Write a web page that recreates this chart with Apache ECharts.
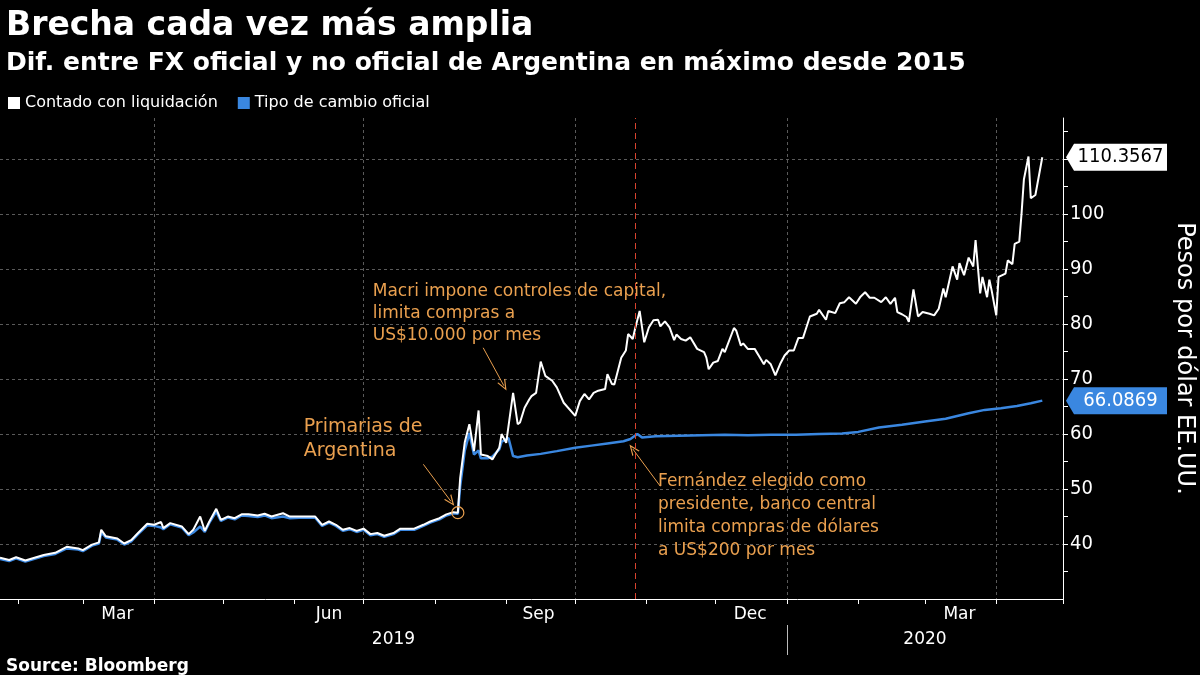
<!DOCTYPE html>
<html><head><meta charset="utf-8">
<script src="https://cdn.jsdelivr.net/npm/echarts@6/dist/echarts.min.js"></script>
<style>html,body{margin:0;padding:0;background:#000;}#c{width:1200px;height:675px;}</style>
</head><body><div id="c"></div>
<script>
const titulo = 'Brecha cada vez más amplia';
const subtitulo = 'Dif. entre FX oficial y no oficial de Argentina en máximo desde 2015';
const fuente = 'Source: Bloomberg';
const nombreCCL = 'Contado con liquidación';
const nombreOficial = 'Tipo de cambio oficial';
const nombreEjeY = 'Pesos por dólar EE.UU.';

const ejeXMin = '2019-01-24';
const ejeXMax = '2020-04-30';
const ejeYMin = 30;
const ejeYMax = 117.5;
const ejeYIntervalo = 10;
const ejeYEtiquetas = [40, 50, 60, 70, 80, 90, 100];
const ejeYLineas = [40, 50, 60, 70, 80, 90, 100, 110];
const ejeYMarcas = [35, 40, 45, 50, 55, 60, 65, 70, 75, 80, 85, 90, 95, 100, 105, 110, 115];
const mesEtiquetaFechas = ['2019-03-16', '2019-06-16', '2019-09-15', '2019-12-16', '2020-03-16'];
const mesEtiquetas = ['Mar', 'Jun', 'Sep', 'Dec', 'Mar'];
const anioEtiquetaFechas = ['2019-07-14', '2020-03-01'];
const anioEtiquetas = ['2019', '2020'];
const anioSeparador = ['2020-01-01'];
const trimestreLineas = ['2019-04-01', '2019-07-01', '2019-10-01', '2020-01-01', '2020-04-01'];

const cclFechas = ['2019-01-24','2019-01-28','2019-01-31','2019-02-04','2019-02-08','2019-02-12','2019-02-17','2019-02-22','2019-02-27','2019-03-01','2019-03-05','2019-03-08','2019-03-09','2019-03-11','2019-03-16','2019-03-19','2019-03-22','2019-03-25','2019-03-29','2019-04-01','2019-04-04','2019-04-05','2019-04-08','2019-04-13','2019-04-16','2019-04-18','2019-04-21','2019-04-23','2019-04-25','2019-04-28','2019-04-30','2019-05-03','2019-05-06','2019-05-09','2019-05-12','2019-05-16','2019-05-19','2019-05-22','2019-05-27','2019-05-30','2019-06-03','2019-06-10','2019-06-13','2019-06-16','2019-06-19','2019-06-22','2019-06-25','2019-06-28','2019-07-01','2019-07-04','2019-07-07','2019-07-10','2019-07-14','2019-07-17','2019-07-23','2019-07-27','2019-07-30','2019-08-03','2019-08-06','2019-08-09','2019-08-11','2019-08-12','2019-08-14','2019-08-16','2019-08-18','2019-08-20','2019-08-21','2019-08-24','2019-08-26','2019-08-29','2019-08-30','2019-09-01','2019-09-04','2019-09-06','2019-09-07','2019-09-09','2019-09-11','2019-09-12','2019-09-14','2019-09-16','2019-09-18','2019-09-21','2019-09-23','2019-09-26','2019-10-01','2019-10-03','2019-10-05','2019-10-07','2019-10-09','2019-10-11','2019-10-14','2019-10-15','2019-10-17','2019-10-18','2019-10-21','2019-10-23','2019-10-24','2019-10-26','2019-10-27','2019-10-29','2019-10-31','2019-11-02','2019-11-04','2019-11-06','2019-11-07','2019-11-09','2019-11-11','2019-11-13','2019-11-14','2019-11-16','2019-11-18','2019-11-20','2019-11-23','2019-11-26','2019-11-27','2019-11-28','2019-11-30','2019-12-02','2019-12-04','2019-12-05','2019-12-09','2019-12-10','2019-12-12','2019-12-13','2019-12-15','2019-12-18','2019-12-20','2019-12-22','2019-12-23','2019-12-25','2019-12-27','2019-12-29','2019-12-31','2020-01-02','2020-01-04','2020-01-06','2020-01-08','2020-01-09','2020-01-11','2020-01-14','2020-01-15','2020-01-18','2020-01-19','2020-01-22','2020-01-24','2020-01-26','2020-01-28','2020-01-31','2020-02-02','2020-02-04','2020-02-06','2020-02-08','2020-02-11','2020-02-13','2020-02-15','2020-02-17','2020-02-18','2020-02-20','2020-02-22','2020-02-23','2020-02-25','2020-02-27','2020-02-29','2020-03-03','2020-03-05','2020-03-07','2020-03-09','2020-03-10','2020-03-13','2020-03-15','2020-03-16','2020-03-18','2020-03-20','2020-03-22','2020-03-23','2020-03-25','2020-03-26','2020-03-28','2020-03-29','2020-03-30','2020-04-01','2020-04-02','2020-04-05','2020-04-06','2020-04-08','2020-04-09','2020-04-11','2020-04-12','2020-04-13','2020-04-15','2020-04-16','2020-04-18','2020-04-21'];
const cclValores = [37.5,37.1,37.6,37.0,37.5,38.0,38.4,39.5,39.2,38.9,39.9,40.3,42.6,41.4,41.0,40.1,40.7,42.0,43.7,43.5,44.0,42.9,43.8,43.2,41.8,42.6,45.0,42.4,44.1,46.4,44.4,45.0,44.7,45.4,45.4,45.2,45.5,45.0,45.6,45.0,45.0,45.0,43.5,44.1,43.5,42.6,42.9,42.4,42.8,41.8,42.0,41.5,42.0,42.8,42.8,43.5,44.1,44.7,45.4,45.8,45.7,52.0,58.5,61.8,56.9,64.3,56.3,56.0,55.4,57.5,60.0,58.4,67.5,61.8,62.1,64.8,66.3,66.9,67.5,73.2,70.6,69.7,68.5,65.7,63.3,66.0,67.3,66.3,67.5,67.9,68.2,70.9,69.1,69.0,73.9,75.2,78.2,77.3,79.1,82.4,76.7,79.4,80.7,80.8,79.6,80.5,79.4,77.1,78.1,77.3,77.0,77.6,75.5,74.9,73.9,71.8,73.0,73.3,75.5,74.9,79.3,78.8,76.1,76.5,75.5,75.5,74.1,72.7,73.5,72.7,70.7,72.7,74.3,75.2,75.2,77.5,77.5,78.8,81.4,81.9,82.6,80.8,82.4,82.0,83.8,84.0,84.9,83.7,85.0,85.8,84.8,84.8,84.0,84.9,83.7,84.8,82.2,81.8,81.3,80.4,86.3,81.4,82.2,81.9,81.6,82.8,86.5,84.9,90.5,88.1,91.1,88.9,92.1,90.5,95.3,85.6,88.6,84.9,88.1,86.1,81.6,88.6,89.2,91.6,90.9,94.6,95.0,100.2,106.3,110.5,102.9,103.5,110.3567];

const oficialFechas = ['2019-01-24','2019-01-28','2019-01-31','2019-02-04','2019-02-08','2019-02-12','2019-02-17','2019-02-22','2019-02-27','2019-03-01','2019-03-05','2019-03-08','2019-03-09','2019-03-11','2019-03-16','2019-03-19','2019-03-22','2019-03-25','2019-03-29','2019-04-01','2019-04-04','2019-04-05','2019-04-08','2019-04-13','2019-04-16','2019-04-18','2019-04-21','2019-04-23','2019-04-25','2019-04-28','2019-04-30','2019-05-03','2019-05-06','2019-05-09','2019-05-12','2019-05-16','2019-05-19','2019-05-22','2019-05-27','2019-05-30','2019-06-03','2019-06-10','2019-06-13','2019-06-16','2019-06-19','2019-06-22','2019-06-25','2019-06-28','2019-07-01','2019-07-04','2019-07-07','2019-07-10','2019-07-14','2019-07-17','2019-07-23','2019-07-27','2019-07-30','2019-08-03','2019-08-06','2019-08-09','2019-08-11','2019-08-12','2019-08-14','2019-08-16','2019-08-18','2019-08-20','2019-08-21','2019-08-24','2019-08-26','2019-08-29','2019-08-30','2019-09-02','2019-09-04','2019-09-06','2019-09-10','2019-09-16','2019-09-23','2019-10-01','2019-10-08','2019-10-15','2019-10-22','2019-10-25','2019-10-28','2019-10-30','2019-11-05','2019-11-15','2019-11-25','2019-12-05','2019-12-15','2019-12-25','2020-01-05','2020-01-15','2020-01-25','2020-02-01','2020-02-10','2020-02-20','2020-03-01','2020-03-10','2020-03-20','2020-03-27','2020-04-03','2020-04-10','2020-04-16','2020-04-21'];
const oficialValores = [37.3,36.9,37.4,36.8,37.3,37.8,38.2,39.2,39.0,38.7,39.7,40.1,42.1,41.2,40.8,39.9,40.5,41.8,43.4,43.3,43.0,42.7,43.6,43.0,41.6,42.1,43.2,42.2,43.9,45.9,44.2,44.8,44.5,45.2,45.1,44.9,45.2,44.7,45.0,44.7,44.8,44.8,43.3,43.9,43.3,42.4,42.7,42.2,42.6,41.6,41.8,41.3,41.8,42.6,42.6,43.3,43.9,44.5,45.2,45.6,45.5,50.5,57.0,60.2,56.3,57.0,55.6,55.6,55.9,57.2,58.6,59.3,56.0,55.8,56.1,56.4,56.9,57.5,57.9,58.3,58.7,59.1,60.0,59.4,59.6,59.7,59.8,59.9,59.8,59.9,59.9,60.0,60.1,60.4,61.2,61.7,62.3,62.8,63.8,64.4,64.7,65.1,65.6,66.0869];

const notaPrimarias = 'Primarias de\nArgentina';
const notaMacri = 'Macri impone controles de capital,\nlimita compras a\nUS$10.000 por mes';
const notaFernandez = 'Fernández elegido como\npresidente, banco central\nlimita compras de dólares\na US$200 por mes';
const fechaEleccion = '2019-10-27';

const BLANCO = '#ffffff';
const AZUL = '#3a87e0';
const NARANJA = '#eaa04f';
const ROJO = '#d8432e';
const GRIS = '#5a5a5a';
const FONT = 'DejaVu Sans';
const FONTC = 'DejaVu Sans Condensed, DejaVu Sans';

function ts(s) { const p = s.split('-'); return Date.UTC(+p[0], +p[1] - 1, +p[2]); }
function zip(f, v) { return f.map((d, i) => [ts(d), v[i]]); }
function mesesInicio() {
  const out = [];
  let y = 2019, m = 1;
  while (Date.UTC(y, m, 1) <= ts(ejeXMax) + 86400000) { out.push(Math.min(Date.UTC(y, m, 1), ts(ejeXMax))); m++; if (m > 11) { m = 0; y++; } }
  return out;
}

const flecha = 'path://M5,0 L10,11 L8.6,11 L5,3 L1.4,11 L0,11 Z';
const etiquetaForma = 'path://M0,13.5 L8,0 L101,0 L101,27 L8,27 Z';
const ultimoCCL = cclValores[cclValores.length - 1];
const ultimoOficial = oficialValores[oficialValores.length - 1];

function nota(fecha, valor, texto, size, lh) {
  return { coord: [ts(fecha), valor], symbol: 'circle', symbolSize: 0, itemStyle: { color: 'transparent' },
    label: { show: true, position: [0, 0], align: 'left', verticalAlign: 'top', formatter: texto,
      color: NARANJA, fontSize: size, lineHeight: lh, fontFamily: FONT } };
}
function flechaDe(f1, v1, f2, v2) { return [{ coord: [ts(f1), v1] }, { coord: [ts(f2), v2] }]; }

const xBase = { type: 'value', min: ts(ejeXMin), max: ts(ejeXMax), position: 'bottom', scale: true };

const chart = echarts.init(document.getElementById('c'));
chart.setOption({
  backgroundColor: '#000',
  animation: false,
  textStyle: { fontFamily: FONT },
  title: [
    { text: titulo, left: 1, top: 5, textStyle: { color: BLANCO, fontSize: 33, fontWeight: 'bold', fontFamily: FONT } },
    { text: subtitulo, left: 1, top: 46, textStyle: { color: BLANCO, fontSize: 25, fontWeight: 'bold', fontFamily: FONT } },
    { text: fuente, left: 1, top: 653, textStyle: { color: BLANCO, fontSize: 17, fontWeight: 'bold', fontFamily: FONT } }
  ],
  legend: {
    left: 3, top: 90, icon: 'rect', itemWidth: 12, itemHeight: 12, itemGap: 20,
    data: [nombreCCL, nombreOficial],
    textStyle: { color: BLANCO, fontSize: 16, fontFamily: FONT }
  },
  grid: { left: 0, right: 137, top: 118, bottom: 76, containLabel: false, outerBoundsMode: 'none' },
  xAxis: [
    Object.assign({}, xBase, {
      axisLine: { show: true, lineStyle: { color: BLANCO, width: 1 } },
      axisTick: { show: true, customValues: mesesInicio(), length: 5, lineStyle: { color: BLANCO } },
      axisLabel: { show: true, customValues: mesEtiquetaFechas.map(ts), color: BLANCO, fontSize: 17, margin: 7, fontFamily: FONT,
        formatter: function (v) { const i = mesEtiquetaFechas.map(ts).indexOf(v); return i >= 0 ? mesEtiquetas[i] : ''; } },
      splitLine: { show: false } }),
    Object.assign({}, xBase, { offset: 26,
      axisLine: { show: false },
      axisTick: { show: true, customValues: anioSeparador.map(ts), length: 30, lineStyle: { color: '#bbbbbb' } },
      axisLabel: { show: true, customValues: anioEtiquetaFechas.map(ts), color: BLANCO, fontSize: 17, margin: 6, fontFamily: FONT,
        formatter: function (v) { const i = anioEtiquetaFechas.map(ts).indexOf(v); return i >= 0 ? anioEtiquetas[i] : ''; } },
      splitLine: { show: false } }),
    Object.assign({}, xBase, {
      axisLine: { show: false },
      axisTick: { show: false, customValues: trimestreLineas.map(ts) },
      axisLabel: { show: false },
      splitLine: { show: true, lineStyle: { color: GRIS, type: [3, 3], width: 1 } } })
  ],
  yAxis: [
    { type: 'value', position: 'right', min: ejeYMin, max: ejeYMax, interval: ejeYIntervalo,
      axisLine: { show: true, lineStyle: { color: BLANCO, width: 1 } },
      axisTick: { show: true, customValues: ejeYMarcas, length: 5, lineStyle: { color: BLANCO } },
      axisLabel: { show: true, customValues: ejeYEtiquetas, color: BLANCO, fontSize: 20, margin: 7, fontFamily: FONTC },
      splitLine: { show: false },
      name: nombreEjeY, nameLocation: 'middle', nameRotate: -90, nameGap: 109,
      nameTextStyle: { color: BLANCO, fontSize: 24, fontFamily: FONT } },
    { type: 'value', position: 'right', min: ejeYMin, max: ejeYMax, interval: ejeYIntervalo,
      axisLine: { show: false },
      axisTick: { show: false, customValues: ejeYLineas },
      axisLabel: { show: false },
      splitLine: { show: true, lineStyle: { color: GRIS, type: [3, 3], width: 1 } } }
  ],
  series: [
    { name: nombreCCL, type: 'line', xAxisIndex: 0, yAxisIndex: 0, z: 4,
      data: zip(cclFechas, cclValores), showSymbol: false, symbol: 'none',
      lineStyle: { color: BLANCO, width: 2 }, itemStyle: { color: BLANCO },
      markLine: { silent: true, animation: false, symbol: ['none', flecha], symbolSize: [9, 11],
        label: { show: false }, lineStyle: { color: NARANJA, width: 1, type: 'solid' },
        data: [
          flechaDe('2019-07-27', 54.5, '2019-08-08', 47.75),
          flechaDe('2019-08-22', 75.7, '2019-08-31', 68.8),
          flechaDe('2019-11-07', 50.5, '2019-10-26', 57.3)
        ] },
      markPoint: { silent: true, animation: false,
        data: [
          { coord: [ts(ejeXMax), ultimoCCL], symbol: etiquetaForma, symbolSize: [101, 27], symbolOffset: [53.5, 0], symbolKeepAspect: false,
            itemStyle: { color: BLANCO },
            label: { show: true, position: 'inside', offset: [4, 0], formatter: String(ultimoCCL), color: '#000', fontSize: 20, fontFamily: FONTC } },
          { coord: [ts('2019-08-11'), 45.7], symbol: 'circle', symbolSize: 12,
            itemStyle: { color: 'transparent', borderColor: NARANJA, borderWidth: 1.2 }, label: { show: false } },
          nota('2019-06-05', 63.5, notaPrimarias, 19, 24),
          nota('2019-07-05', 88.0, notaMacri, 17, 22),
          nota('2019-11-06', 53.4, notaFernandez, 17, 23)
        ] } },
    { name: nombreOficial, type: 'line', xAxisIndex: 0, yAxisIndex: 0, z: 3,
      data: zip(oficialFechas, oficialValores), showSymbol: false, symbol: 'none',
      lineStyle: { color: AZUL, width: 2.5 }, itemStyle: { color: AZUL },
      markLine: { silent: true, animation: false, symbol: 'none', label: { show: false },
        lineStyle: { color: ROJO, width: 1, type: [6, 4] },
        data: [{ xAxis: ts(fechaEleccion) }] },
      markPoint: { silent: true, animation: false,
        data: [
          { coord: [ts(ejeXMax), ultimoOficial], symbol: etiquetaForma, symbolSize: [101, 27], symbolOffset: [53.5, 0], symbolKeepAspect: false,
            itemStyle: { color: AZUL },
            label: { show: true, position: 'inside', offset: [4, 0], formatter: String(ultimoOficial), color: BLANCO, fontSize: 20, fontFamily: FONTC } }
        ] } }
  ]
});
</script></body></html>
